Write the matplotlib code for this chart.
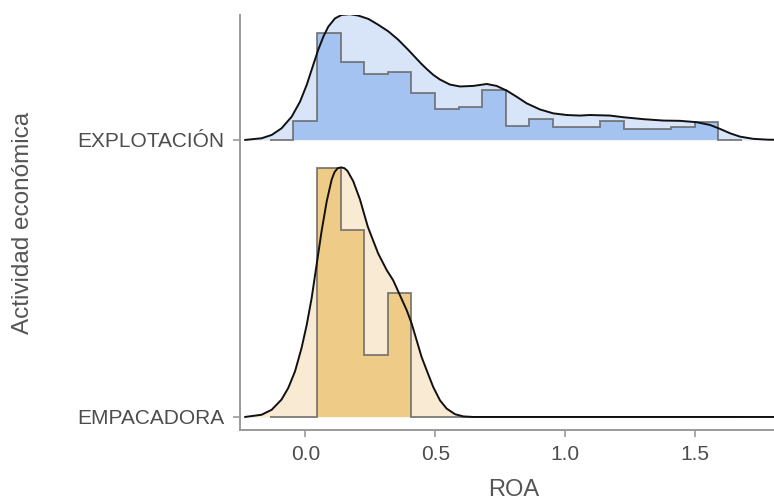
import numpy as np
import matplotlib
matplotlib.use("Agg")
import matplotlib.pyplot as plt

# ---------------- data ----------------
categories = ["EMPACADORA", "EXPLOTACIÓN"]
x_ticks = [0.0, 0.5, 1.0, 1.5]
x_ticklabels = ["0.0", "0.5", "1.0", "1.5"]

# histogram bins (20 equal bins)
hist_start = -0.137
hist_end = 1.680
n_bins = 20

explot_hist = [0.0, 0.070, 0.385, 0.280, 0.237, 0.244, 0.168, 0.111, 0.120, 0.180,
               0.051, 0.075, 0.048, 0.045, 0.070, 0.039, 0.039, 0.046, 0.064, 0.0]
empac_hist = [0.0, 0.0, 0.898, 0.674, 0.225, 0.449, 0.0, 0.0, 0.0, 0.0,
              0.0, 0.0, 0.0, 0.0, 0.0, 0.0, 0.0, 0.0, 0.0, 0.0]

# density curves (height in row units)
explot_x = [-0.233, -0.169, -0.130, -0.092, -0.053, -0.021, 0.005, 0.030, 0.049, 0.069,
            0.088, 0.114, 0.139, 0.171, 0.203, 0.242, 0.280, 0.319, 0.357, 0.396,
            0.420, 0.445, 0.467, 0.492, 0.518, 0.556, 0.595, 0.646, 0.698, 0.736,
            0.775, 0.813, 0.852, 0.903, 0.954, 1.006, 1.057, 1.095, 1.172, 1.224,
            1.301, 1.378, 1.442, 1.506, 1.558, 1.596, 1.635, 1.673, 1.724, 1.780,
            1.850]
explot_y = [0.0, 0.006, 0.018, 0.042, 0.084, 0.138, 0.199, 0.271, 0.325, 0.373,
            0.409, 0.439, 0.451, 0.454, 0.449, 0.437, 0.416, 0.392, 0.362, 0.325,
            0.301, 0.276, 0.256, 0.235, 0.218, 0.200, 0.193, 0.195, 0.202, 0.195,
            0.178, 0.156, 0.132, 0.110, 0.096, 0.090, 0.088, 0.090, 0.088, 0.082,
            0.075, 0.070, 0.069, 0.064, 0.054, 0.040, 0.024, 0.012, 0.004, 0.001,
            0.0]

empac_x = [-0.233, -0.169, -0.130, -0.092, -0.066, -0.040, -0.015, 0.005, 0.024, 0.043,
           0.062, 0.082, 0.101, 0.112, 0.124, 0.137, 0.150, 0.162, 0.184, 0.210,
           0.240, 0.280, 0.313, 0.338, 0.364, 0.390, 0.409, 0.428, 0.447, 0.467,
           0.492, 0.518, 0.544, 0.576, 0.608, 0.646, 0.700, 1.850]
empac_y = [0.0, 0.008, 0.026, 0.063, 0.105, 0.165, 0.249, 0.333, 0.430, 0.550,
           0.670, 0.779, 0.857, 0.884, 0.898, 0.901, 0.898, 0.888, 0.851, 0.785,
           0.687, 0.590, 0.530, 0.493, 0.439, 0.385, 0.337, 0.277, 0.217, 0.168,
           0.108, 0.060, 0.030, 0.010, 0.002, 0.0, 0.0, 0.0]

# ---------------- style ----------------
plt.rcParams['font.family'] = ['Liberation Sans', 'DejaVu Sans']

dens_fill = {"EXPLOTACIÓN": "#d8e4f7", "EMPACADORA": "#f9ead3"}
hist_fill = {"EXPLOTACIÓN": "#a5c3f0", "EMPACADORA": "#efcb88"}
outline_col = "#666666"
axis_col = "#9a9a9a"

fig = plt.figure(figsize=(7.74, 5.01), dpi=100)
ax = fig.add_axes([240 / 774, 1 - 430 / 501, 534 / 774, 415 / 501])

edges = np.linspace(hist_start, hist_end, n_bins + 1)

rows = [
    ("EMPACADORA", 1, empac_x, empac_y, empac_hist),
    ("EXPLOTACIÓN", 2, explot_x, explot_y, explot_hist),
]

for name, base, dx, dy, hv in rows:
    dx = np.asarray(dx)
    dy = np.asarray(dy)
    hv = np.asarray(hv)
    ax.fill_between(dx, base, base + dy, color=dens_fill[name], lw=0, zorder=1)
    ax.stairs(base + hv, edges, baseline=base, fill=True,
              color=hist_fill[name], lw=0, zorder=2)
    ax.stairs(base + hv, edges, baseline=None, fill=False,
              color=outline_col, lw=1.3, alpha=0.85, zorder=3)
    ax.plot(dx, base + dy, color="#111111", lw=1.4, zorder=4,
            solid_joinstyle="round", solid_capstyle="round")

ax.set_xlim(-0.252, 1.804)
ax.set_ylim(0.953, 2.451)

ax.set_xticks(x_ticks)
ax.set_xticklabels(x_ticklabels)
ax.set_yticks([1, 2])
ax.set_yticklabels(categories)

for s in ["top", "right"]:
    ax.spines[s].set_visible(False)
for s in ["left", "bottom"]:
    ax.spines[s].set_color(axis_col)
    ax.spines[s].set_linewidth(1.4)

ax.tick_params(axis="both", colors=axis_col, length=5, width=1.2,
               labelcolor="#4d4d4d", labelsize=15, pad=6)

ax.set_xlabel("ROA", fontsize=17, color="#555555")
ax.set_ylabel("Actividad económica", fontsize=17.5, color="#555555")
ax.xaxis.set_label_coords(0.513, -0.118)
ax.yaxis.set_label_coords(-0.385, 0.5)

fig.savefig("out.png", dpi=100)
